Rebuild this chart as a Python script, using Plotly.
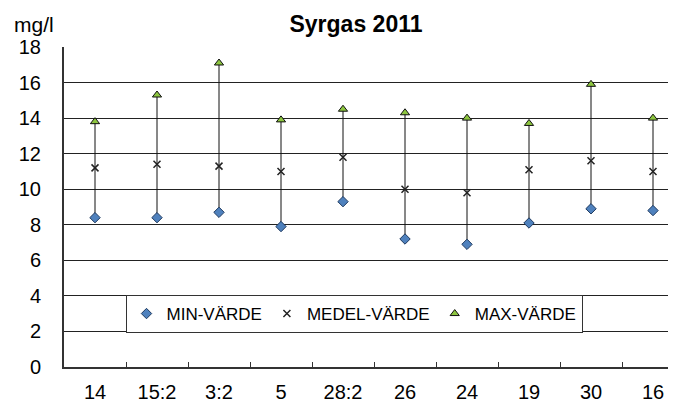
import plotly.graph_objects as go

categories = ["14", "15:2", "3:2", "5", "28:2", "26", "24", "19", "30", "16"]
min_values = [8.4, 8.4, 8.7, 7.9, 9.3, 7.2, 6.9, 8.1, 8.9, 8.8]
mean_values = [11.2, 11.4, 11.3, 11.0, 11.8, 10.0, 9.8, 11.1, 11.6, 11.0]
max_values = [13.8, 15.3, 17.1, 13.9, 14.5, 14.3, 14.0, 13.7, 15.9, 14.0]
y_ticks = [0, 2, 4, 6, 8, 10, 12, 14, 16, 18]

FONT = "Arial, Liberation Sans, sans-serif"

# page has an 8px body margin, so the figure is sized/placed to compensate
W, H = 668, 395
ML, MT, MB = 56, 39, 36
PW = W - ML
PH = H - MT - MB

span = [mx - mn for mx, mn in zip(max_values, min_values)]

fig = go.Figure()
fig.add_trace(go.Scatter(
    x=categories, y=min_values, mode="markers", name="MIN-VÄRDE",
    marker=dict(symbol="diamond", size=8, color="#4F81BD",
                line=dict(color="#1F3A5F", width=1)),
    error_y=dict(type="data", symmetric=False, array=span,
                 arrayminus=[0] * len(span), width=0, thickness=1,
                 color="#111111"),
))
fig.add_trace(go.Scatter(
    x=categories, y=mean_values, mode="markers", name="MEDEL-VÄRDE",
    marker=dict(symbol="x-thin", size=7, color="#222222",
                line=dict(color="#222222", width=1.5)),
))
fig.add_trace(go.Scatter(
    x=categories, y=max_values, mode="markers", name="MAX-VÄRDE",
    marker=dict(symbol="triangle-up", size=8, color="#8DC63F",
                line=dict(color="#111111", width=1)),
))

fig.update_layout(
    width=W, height=H,
    margin=dict(l=ML, r=0, t=MT, b=MB, pad=0),
    paper_bgcolor="white", plot_bgcolor="white",
    font=dict(family=FONT, color="black", size=20),
    title=dict(text="<b>Syrgas 2011</b>", x=348 / W, xanchor="center",
               y=1 - 16 / H, yanchor="middle",
               font=dict(family=FONT, size=23, color="black")),
    showlegend=True,
    legend=dict(orientation="h", x=(346 - ML) / PW, xanchor="center",
                y=0.1656, yanchor="middle",
                bgcolor="white", bordercolor="#333333", borderwidth=1,
                font=dict(family=FONT, size=17, color="black"),
                itemwidth=30, tracegroupgap=0),
    annotations=[dict(text="mg/l", xref="paper", yref="paper",
                      x=(4.5 - ML) / PW, xanchor="left",
                      y=1 + 23 / PH, yanchor="middle", showarrow=False,
                      font=dict(family=FONT, size=21, color="black"))],
)

fig.update_xaxes(
    type="category", range=[-0.5, 9.5 - 8 / 62], automargin=False,
    showline=True, linecolor="#333333", linewidth=2,
    ticks="inside", tickson="boundaries", ticklen=5, tickcolor="#333333",
    tickwidth=1, showgrid=False, ticklabelstandoff=6,
    tickfont=dict(family=FONT, size=20, color="black"),
)
fig.update_yaxes(
    range=[0, 18], tickvals=y_ticks, ticktext=[str(v) for v in y_ticks],
    automargin=False,
    showline=True, linecolor="#333333", linewidth=2,
    showgrid=True, gridcolor="#222222", gridwidth=1, zeroline=False,
    ticks="", ticklabelstandoff=17,
    tickfont=dict(family=FONT, size=20, color="black"),
)

fig.write_html("out.html")
